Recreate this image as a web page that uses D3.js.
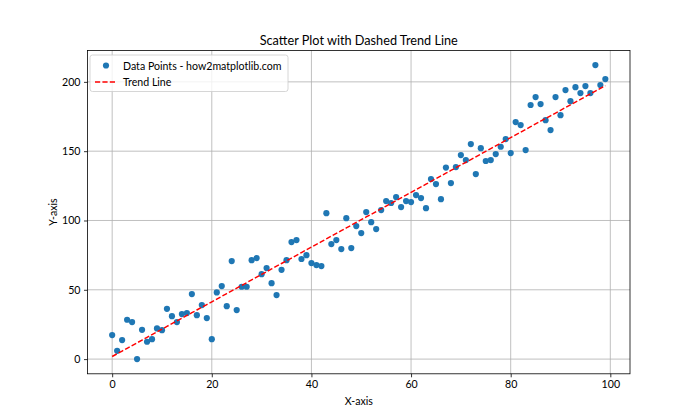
<!DOCTYPE html>
<html><head><meta charset="utf-8">
<script src="https://cdn.jsdelivr.net/npm/d3@7"></script>
<style>body{margin:0;background:#fff;} svg{display:block;} text{font-family:"Lato","Noto Sans",sans-serif;}</style>
</head><body><div id="chart"></div>
<script>
const xValues = d3.range(0, 100);
const yValues = [17.3,6.0,13.7,28.4,26.7,0.0,21.1,12.5,14.4,22.1,
20.9,36.3,31.0,26.7,32.5,33.2,46.9,31.7,39.0,29.6,
14.4,48.1,52.7,38.2,70.7,35.4,52.2,52.2,71.4,72.9,
61.3,65.7,54.8,46.2,64.4,71.4,84.4,85.9,72.2,75.0,
69.3,67.8,67.1,105.3,83.0,85.9,79.4,101.7,80.1,96.0,
90.9,106.1,98.8,93.8,107.5,114.0,112.6,116.9,109.7,114.0,
113.3,118.3,116.2,108.9,129.9,126.3,115.4,138.2,127.0,138.5,
147.2,143.6,155.1,133.5,152.2,142.9,143.6,147.9,153.2,158.7,
148.6,171.0,168.8,150.8,183.3,189.0,184.0,172.4,165.2,189.0,
176.0,194.1,186.1,196.2,191.9,197.0,191.9,212.1,197.7,202.0];
const xTicks = [0,20,40,60,80,100];
const yTicks = [0,50,100,150,200];
const titleText = "Scatter Plot with Dashed Trend Line";
const seriesLabels = ["Data Points - how2matplotlib.com", "Trend Line"];

// linear least-squares fit (like np.polyfit deg 1)
const n = xValues.length;
const mx = d3.mean(xValues), my = d3.mean(yValues);
let sxy = 0, sxx = 0;
for (let i = 0; i < n; i++) { sxy += (xValues[i]-mx)*(yValues[i]-my); sxx += (xValues[i]-mx)**2; }
const slope = sxy/sxx, intercept = my - slope*mx;
const trend = xValues.map(x => [x, slope*x + intercept]);

const W = 700, H = 420;
const L = 87.5, R = 630, T = 50.4, B = 373.8;
const FS = "10.6px";
const svg = d3.select("#chart").append("svg").attr("width", W).attr("height", H);

const xmin = d3.min(xValues), xmax = d3.max(xValues);
const xpad = (xmax-xmin)*0.05;
const ymin = d3.min(yValues), ymax = d3.max(yValues);
const ypad = (ymax-ymin)*0.05;
const x = d3.scaleLinear().domain([xmin-xpad, xmax+xpad]).range([L, R]);
const y = d3.scaleLinear().domain([ymin-ypad, ymax+ypad]).range([B, T]);

// grid
const g = svg.append("g");
g.selectAll(".gx").data(xTicks).enter().append("line")
  .attr("x1", d=>x(d)).attr("x2", d=>x(d)).attr("y1", T).attr("y2", B)
  .attr("stroke", "#b0b0b0").attr("stroke-width", 0.8);
g.selectAll(".gy").data(yTicks).enter().append("line")
  .attr("x1", L).attr("x2", R).attr("y1", d=>y(d)).attr("y2", d=>y(d))
  .attr("stroke", "#b0b0b0").attr("stroke-width", 0.8);

// axes
const xAxis = d3.axisBottom(x).tickValues(xTicks).tickSize(3.5).tickPadding(3.5).tickFormat(d3.format("d"));
const yAxis = d3.axisLeft(y).tickValues(yTicks).tickSize(3.5).tickPadding(3.5).tickFormat(d3.format("d"));
const gx = svg.append("g").attr("transform", `translate(0,${B})`).call(xAxis);
const gy = svg.append("g").attr("transform", `translate(${L},0)`).call(yAxis);
[gx, gy].forEach(a => {
  a.select(".domain").remove();
  a.selectAll(".tick line").attr("stroke", "#000").attr("stroke-width", 0.8);
  a.selectAll(".tick text").attr("fill", "#000").style("font-size", FS).style("font-family", "Lato, 'Noto Sans', sans-serif");
});

// points
svg.append("g").selectAll("circle").data(xValues.map((d,i)=>[d, yValues[i]])).enter().append("circle")
  .attr("cx", d=>x(d[0])).attr("cy", d=>y(d[1])).attr("r", 3.1).attr("fill", "#1f77b4");

// trend
svg.append("path").datum(trend)
  .attr("d", d3.line().x(d=>x(d[0])).y(d=>y(d[1])))
  .attr("fill", "none").attr("stroke", "red").attr("stroke-width", 1.45)
  .attr("stroke-dasharray", "5.2,2.2");

// spines
svg.append("rect").attr("x", L).attr("y", T).attr("width", R-L).attr("height", B-T)
  .attr("fill", "none").attr("stroke", "#000").attr("stroke-width", 0.8);

// title and labels
svg.append("text").attr("x", (L+R)/2).attr("y", 45).attr("text-anchor", "middle")
  .style("font-size", "12.7px").text(titleText);
svg.append("text").attr("x", (L+R)/2).attr("y", 405).attr("text-anchor", "middle")
  .style("font-size", FS).text("X-axis");
svg.append("text").attr("transform", `translate(57,${(T+B)/2}) rotate(-90)`).attr("text-anchor", "middle")
  .style("font-size", FS).text("Y-axis");

// legend
const lg = svg.append("g");
lg.append("rect").attr("x", 90).attr("y", 55).attr("width", 198).attr("height", 36.5).attr("rx", 2.5)
  .attr("fill", "#fff").attr("fill-opacity", 0.8).attr("stroke", "#ccc").attr("stroke-width", 0.8);
lg.append("circle").attr("cx", 106).attr("cy", 65.5).attr("r", 3.1).attr("fill", "#1f77b4");
lg.append("line").attr("x1", 95).attr("x2", 116).attr("y1", 82).attr("y2", 82)
  .attr("stroke", "red").attr("stroke-width", 1.45).attr("stroke-dasharray", "5.2,2.2");
lg.append("text").attr("x", 123).attr("y", 69.5).style("font-size", FS).text(seriesLabels[0]);
lg.append("text").attr("x", 123).attr("y", 86).style("font-size", FS).text(seriesLabels[1]);
</script></body></html>
